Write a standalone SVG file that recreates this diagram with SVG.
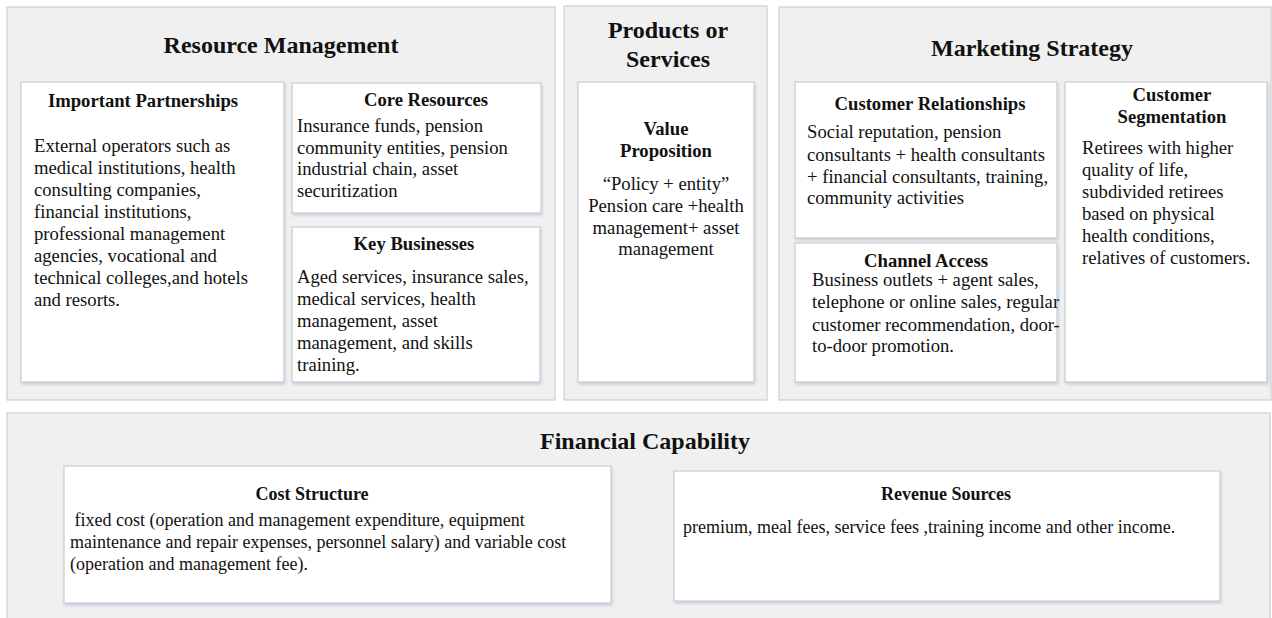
<svg xmlns="http://www.w3.org/2000/svg" width="1272" height="618" viewBox="0 0 1272 618">
<style>
  .panel { fill: #f0f0f0; stroke: #d2d2d2; stroke-width: 1.3; }
  .box { fill: #ffffff; stroke: #d0d0d0; stroke-width: 1.3; filter: url(#sh); }
  text { font-family: "Liberation Serif", "Times New Roman", serif; fill: #111; }
  .sec { font-size: 24px; font-weight: bold; text-anchor: middle; }
  .ttl { font-size: 18.67px; font-weight: bold; text-anchor: middle; }
  .body { font-size: 18.67px; }
  .mid { text-anchor: middle; }
  .btl { font-size: 18px; font-weight: bold; text-anchor: middle; }
  .bbody { font-size: 18px; }
</style>
<defs>
  <filter id="sh" x="-5%" y="-5%" width="112%" height="115%">
    <feDropShadow dx="1" dy="2" stdDeviation="1.5" flood-color="#9fbad8" flood-opacity="0.55"/>
  </filter>
</defs>
<rect width="1272" height="618" fill="#ffffff"/>

<g id="resource-management">
  <rect class="panel" x="7" y="7" width="548" height="393"/>
  <text class="sec" x="281" y="53">Resource Management</text>
</g>
<g id="important-partnerships">
  <rect class="box" x="21" y="82" width="263" height="300"/>
  <text class="ttl" x="143" y="107">Important Partnerships</text>
  <text class="body" x="34" y="152">External operators such as</text>
  <text class="body" x="34" y="174">medical institutions, health</text>
  <text class="body" x="34" y="196">consulting companies,</text>
  <text class="body" x="34" y="218">financial institutions,</text>
  <text class="body" x="34" y="240">professional management</text>
  <text class="body" x="34" y="262">agencies, vocational and</text>
  <text class="body" x="34" y="284">technical colleges,and hotels</text>
  <text class="body" x="34" y="306">and resorts.</text>
</g>
<g id="core-resources">
  <rect class="box" x="292" y="83" width="249" height="130"/>
  <text class="ttl" x="426" y="106">Core Resources</text>
  <text class="body" x="297" y="132">Insurance funds, pension</text>
  <text class="body" x="297" y="153.5">community entities, pension</text>
  <text class="body" x="297" y="175">industrial chain, asset</text>
  <text class="body" x="297" y="197">securitization</text>
</g>
<g id="key-businesses">
  <rect class="box" x="292" y="227" width="248" height="155"/>
  <text class="ttl" x="414" y="250">Key Businesses</text>
  <text class="body" x="297" y="283">Aged services, insurance sales,</text>
  <text class="body" x="297" y="305">medical services, health</text>
  <text class="body" x="297" y="327">management, asset</text>
  <text class="body" x="297" y="349">management, and skills</text>
  <text class="body" x="297" y="371">training.</text>
</g>

<g id="products-or-services">
  <rect class="panel" x="564" y="6" width="203" height="394"/>
  <text class="sec" x="668" y="38">Products or</text>
  <text class="sec" x="668" y="67">Services</text>
</g>
<g id="value-proposition">
  <rect class="box" x="578" y="82" width="176" height="300"/>
  <text class="ttl" x="666" y="135">Value</text>
  <text class="ttl" x="666" y="157">Proposition</text>
  <text class="body mid" x="666" y="190">“Policy + entity”</text>
  <text class="body mid" x="666" y="212">Pension care +health</text>
  <text class="body mid" x="666" y="233.5">management+ asset</text>
  <text class="body mid" x="666" y="255">management</text>
</g>

<g id="marketing-strategy">
  <rect class="panel" x="779" y="7" width="492" height="393"/>
  <text class="sec" x="1032" y="56">Marketing Strategy</text>
</g>
<g id="customer-relationships">
  <rect class="box" x="795" y="82" width="262" height="156"/>
  <text class="ttl" x="930" y="110">Customer Relationships</text>
  <text class="body" x="807" y="138">Social reputation, pension</text>
  <text class="body" x="807" y="160.5">consultants + health consultants</text>
  <text class="body" x="807" y="182.5">+ financial consultants, training,</text>
  <text class="body" x="807" y="204">community activities</text>
</g>
<g id="channel-access">
  <rect class="box" x="795" y="243" width="262" height="139"/>
  <text class="ttl" x="926" y="267">Channel Access</text>
  <text class="body" x="812" y="286">Business outlets + agent sales,</text>
  <text class="body" x="812" y="308">telephone or online sales, regular</text>
  <text class="body" x="812" y="330.5">customer recommendation, door-</text>
  <text class="body" x="812" y="352">to-door promotion.</text>
</g>
<g id="customer-segmentation">
  <rect class="box" x="1065" y="82" width="202" height="300"/>
  <text class="ttl" x="1172" y="101">Customer</text>
  <text class="ttl" x="1172" y="123">Segmentation</text>
  <text class="body" x="1082" y="154">Retirees with higher</text>
  <text class="body" x="1082" y="176">quality of life,</text>
  <text class="body" x="1082" y="198">subdivided retirees</text>
  <text class="body" x="1082" y="220">based on physical</text>
  <text class="body" x="1082" y="242">health conditions,</text>
  <text class="body" x="1082" y="264">relatives of customers.</text>
</g>

<g id="financial-capability">
  <rect class="panel" x="7" y="413" width="1263" height="220"/>
  <text class="sec" x="645" y="449">Financial Capability</text>
</g>
<g id="cost-structure">
  <rect class="box" x="64" y="466" width="547" height="137"/>
  <text class="btl" x="312" y="500">Cost Structure</text>
  <text class="bbody" x="70" y="526" xml:space="preserve"> fixed cost (operation and management expenditure, equipment</text>
  <text class="bbody" x="70" y="548">maintenance and repair expenses, personnel salary) and variable cost</text>
  <text class="bbody" x="70" y="570">(operation and management fee).</text>
</g>
<g id="revenue-sources">
  <rect class="box" x="674" y="471" width="546" height="130"/>
  <text class="btl" x="946" y="500">Revenue Sources</text>
  <text class="bbody" x="683" y="533">premium, meal fees, service fees ,training income and other income.</text>
</g>

<g id="connectors"></g>
</svg>
